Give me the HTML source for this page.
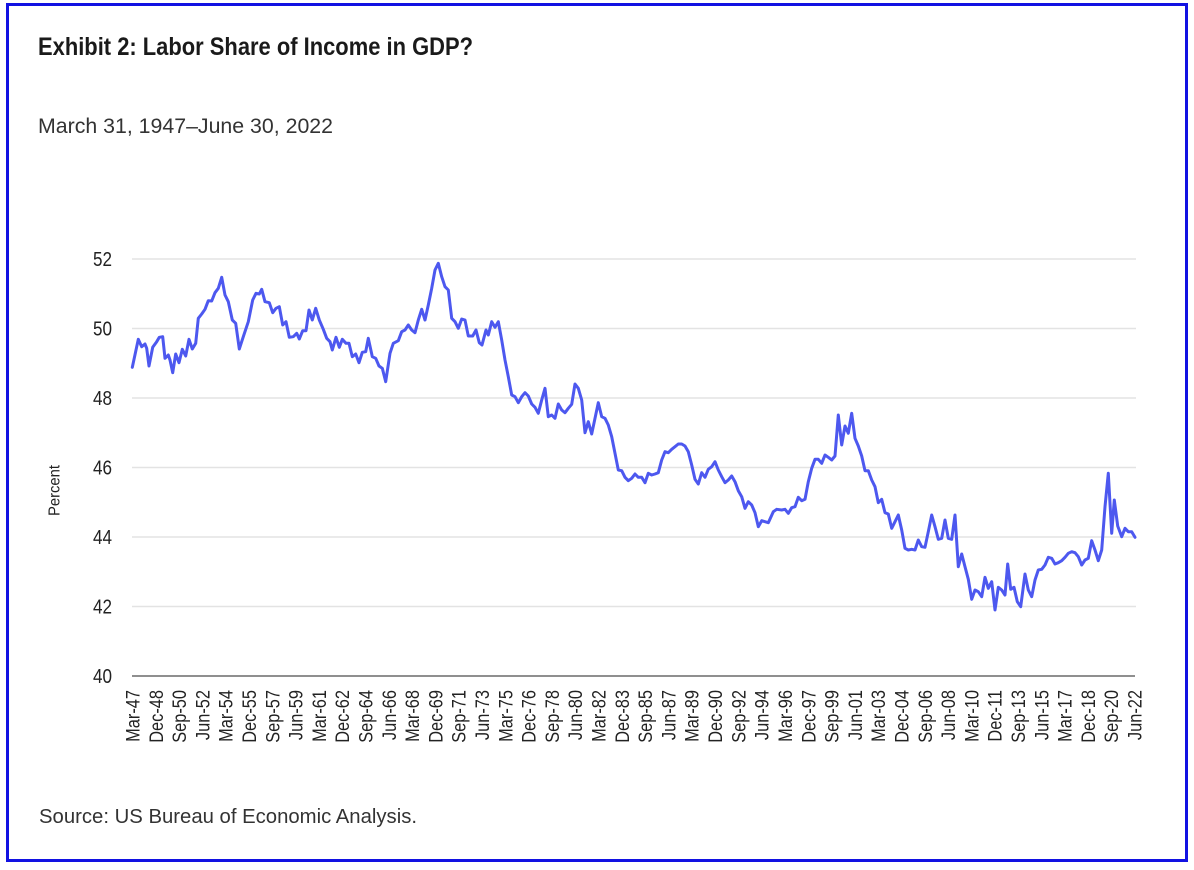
<!DOCTYPE html>
<html><head><meta charset="utf-8"><style>
html,body{margin:0;padding:0;background:#fff;}
svg{display:block;}
text{font-family:"Liberation Sans",Arial,sans-serif;}
</style></head><body>
<svg width="1194" height="870" viewBox="0 0 1194 870" xmlns="http://www.w3.org/2000/svg">
<rect x="0" y="0" width="1194" height="870" fill="#fff"/>
<rect x="7.5" y="4.5" width="1179" height="856" fill="#fff" stroke="#1212e2" stroke-width="3"/>

<text x="38" y="55" font-size="25" font-weight="bold" fill="#1a1a1a" textLength="435" lengthAdjust="spacingAndGlyphs">Exhibit 2: Labor Share of Income in GDP?</text>
<text x="38" y="133" font-size="21" fill="#333" textLength="295" lengthAdjust="spacingAndGlyphs">March 31, 1947–June 30, 2022</text>
<text x="39" y="823" font-size="20" fill="#333" textLength="378" lengthAdjust="spacingAndGlyphs">Source: US Bureau of Economic Analysis.</text>

<!-- gridlines -->
<g stroke="#e3e3e3" stroke-width="1.5">
<line x1="132" y1="259" x2="1136" y2="259"/>
<line x1="132" y1="328.5" x2="1136" y2="328.5"/>
<line x1="132" y1="398" x2="1136" y2="398"/>
<line x1="132" y1="467.5" x2="1136" y2="467.5"/>
<line x1="132" y1="537" x2="1136" y2="537"/>
<line x1="132" y1="606.5" x2="1136" y2="606.5"/>
</g>
<line x1="132" y1="676" x2="1135" y2="676" stroke="#6a6a6a" stroke-width="1.5"/>

<!-- y tick labels -->
<g font-size="20" fill="#222" text-anchor="end">
<text x="112" y="266" textLength="19" lengthAdjust="spacingAndGlyphs">52</text>
<text x="112" y="335.5" textLength="19" lengthAdjust="spacingAndGlyphs">50</text>
<text x="112" y="405" textLength="19" lengthAdjust="spacingAndGlyphs">48</text>
<text x="112" y="474.5" textLength="19" lengthAdjust="spacingAndGlyphs">46</text>
<text x="112" y="544" textLength="19" lengthAdjust="spacingAndGlyphs">44</text>
<text x="112" y="613.5" textLength="19" lengthAdjust="spacingAndGlyphs">42</text>
<text x="112" y="683" textLength="19" lengthAdjust="spacingAndGlyphs">40</text>
</g>
<text transform="translate(59.5,490.5) rotate(-90)" font-size="16" fill="#222" text-anchor="middle" textLength="51" lengthAdjust="spacingAndGlyphs">Percent</text>

<!-- x tick labels -->
<g font-size="19.5" fill="#222" text-anchor="end">
<text transform="translate(139.5,690) rotate(-90) scale(0.84,1)">Mar-47</text>
<text transform="translate(162.8,690) rotate(-90) scale(0.84,1)">Dec-48</text>
<text transform="translate(186.1,690) rotate(-90) scale(0.84,1)">Sep-50</text>
<text transform="translate(209.4,690) rotate(-90) scale(0.84,1)">Jun-52</text>
<text transform="translate(232.7,690) rotate(-90) scale(0.84,1)">Mar-54</text>
<text transform="translate(256.0,690) rotate(-90) scale(0.84,1)">Dec-55</text>
<text transform="translate(279.3,690) rotate(-90) scale(0.84,1)">Sep-57</text>
<text transform="translate(302.6,690) rotate(-90) scale(0.84,1)">Jun-59</text>
<text transform="translate(325.9,690) rotate(-90) scale(0.84,1)">Mar-61</text>
<text transform="translate(349.2,690) rotate(-90) scale(0.84,1)">Dec-62</text>
<text transform="translate(372.5,690) rotate(-90) scale(0.84,1)">Sep-64</text>
<text transform="translate(395.8,690) rotate(-90) scale(0.84,1)">Jun-66</text>
<text transform="translate(419.1,690) rotate(-90) scale(0.84,1)">Mar-68</text>
<text transform="translate(442.4,690) rotate(-90) scale(0.84,1)">Dec-69</text>
<text transform="translate(465.7,690) rotate(-90) scale(0.84,1)">Sep-71</text>
<text transform="translate(489.0,690) rotate(-90) scale(0.84,1)">Jun-73</text>
<text transform="translate(512.3,690) rotate(-90) scale(0.84,1)">Mar-75</text>
<text transform="translate(535.6,690) rotate(-90) scale(0.84,1)">Dec-76</text>
<text transform="translate(558.9,690) rotate(-90) scale(0.84,1)">Sep-78</text>
<text transform="translate(582.2,690) rotate(-90) scale(0.84,1)">Jun-80</text>
<text transform="translate(605.5,690) rotate(-90) scale(0.84,1)">Mar-82</text>
<text transform="translate(628.8,690) rotate(-90) scale(0.84,1)">Dec-83</text>
<text transform="translate(652.1,690) rotate(-90) scale(0.84,1)">Sep-85</text>
<text transform="translate(675.4,690) rotate(-90) scale(0.84,1)">Jun-87</text>
<text transform="translate(698.7,690) rotate(-90) scale(0.84,1)">Mar-89</text>
<text transform="translate(722.1,690) rotate(-90) scale(0.84,1)">Dec-90</text>
<text transform="translate(745.4,690) rotate(-90) scale(0.84,1)">Sep-92</text>
<text transform="translate(768.7,690) rotate(-90) scale(0.84,1)">Jun-94</text>
<text transform="translate(792.0,690) rotate(-90) scale(0.84,1)">Mar-96</text>
<text transform="translate(815.3,690) rotate(-90) scale(0.84,1)">Dec-97</text>
<text transform="translate(838.6,690) rotate(-90) scale(0.84,1)">Sep-99</text>
<text transform="translate(861.9,690) rotate(-90) scale(0.84,1)">Jun-01</text>
<text transform="translate(885.2,690) rotate(-90) scale(0.84,1)">Mar-03</text>
<text transform="translate(908.5,690) rotate(-90) scale(0.84,1)">Dec-04</text>
<text transform="translate(931.8,690) rotate(-90) scale(0.84,1)">Sep-06</text>
<text transform="translate(955.1,690) rotate(-90) scale(0.84,1)">Jun-08</text>
<text transform="translate(978.4,690) rotate(-90) scale(0.84,1)">Mar-10</text>
<text transform="translate(1001.7,690) rotate(-90) scale(0.84,1)">Dec-11</text>
<text transform="translate(1025.0,690) rotate(-90) scale(0.84,1)">Sep-13</text>
<text transform="translate(1048.3,690) rotate(-90) scale(0.84,1)">Jun-15</text>
<text transform="translate(1071.6,690) rotate(-90) scale(0.84,1)">Mar-17</text>
<text transform="translate(1094.9,690) rotate(-90) scale(0.84,1)">Dec-18</text>
<text transform="translate(1118.2,690) rotate(-90) scale(0.84,1)">Sep-20</text>
<text transform="translate(1141.5,690) rotate(-90) scale(0.84,1)">Jun-22</text>
</g>

<!-- data line -->
<polyline fill="none" stroke="#4d58ef" stroke-width="3" stroke-linejoin="round" stroke-linecap="round" points="132.3,367.3 138.3,339.3 141.7,346.7 145,344 146.7,348.3 149,366 152.7,347.3 156.7,341.7 159.3,337.3 162.7,336.7 165,358.3 168.3,355 170,360 172.7,372.7 175.7,354 179,362.7 182.3,349.3 185.7,356 189,339.3 192.3,349 195.7,343.3 198.3,318.3 201.7,314 205,309.3 208.3,300.7 211.7,301 215,292.7 218.3,288.3 221.7,277.3 225,295 228.3,301.7 232.3,320 235.7,323.3 239.3,349 243.3,336.7 248.3,321.7 252.7,300 256,293.3 259.3,294 261.7,289.3 265,301.7 269.3,302.7 272.7,312.7 276,308.3 279.3,306.7 282.7,325 286,321.7 289.3,337.3 293.3,336.7 296.7,333.3 299.3,339 302.7,330.7 306,330.7 309,310 312.3,320 315.7,308.3 319.3,320 323.3,329.3 326.7,338.3 330,341.7 332.3,350 336,337.3 339.3,347.3 342.3,339.3 346,343.3 349,343.3 352.3,356.7 355.7,354 359,362.7 362.3,352.3 365.7,351.7 368.3,338.3 372.3,356.7 375.7,358.3 379,366 382.3,368.3 385.7,381.7 390,353.3 393.3,343.3 398.3,340.7 401.7,331.7 405,330 408.3,325 411.7,330 415,332.7 418.3,320 421.7,309.3 425,320 428.3,305 431.7,288.3 435,270 438.3,263.3 441.7,276.7 445,286.7 448.3,290 451.7,318.3 455,321.7 458.3,328.3 461.7,319 465,320 468.3,336 472.7,336 476,330 479.3,342.7 482,345 486,330 488.3,335 491.7,321.7 495,327.3 498.3,321.7 501.7,340 505,360 508.3,376.7 511.7,395 515,396.7 518.3,402.7 521.7,396.7 525,392.7 528.3,396 531.7,404 535,407.3 538.3,413.3 541.7,400 545,388.3 548.3,416.7 551.7,415 555,418.3 558.3,404 561.7,410 565,412.7 568.3,408.3 571.7,404.3 575,384 578.3,388.3 581.7,400 585,432.7 588.3,421.7 591.7,434 595,418.3 598.3,402.7 601.7,416.7 605,418.3 608.3,425 611.7,436.7 615,453.3 618.3,470 621.7,470.7 625,477.3 628.3,480.7 631.7,478.3 635,474 638.3,477.3 641.7,477.3 645,482.7 648.3,473.3 651.7,475 655,474 658.3,472.7 661.7,460 665,451.7 668.3,452.7 671.7,449.3 675,446.7 678.3,444 681.7,444 685,446 688.3,451.7 691.7,465 695,479.3 698.3,484 701.7,472.7 705,477.3 708.3,469.3 711.7,466.7 715,461.7 718.3,470 721.7,476.7 725,482.7 728.3,480 731.7,476 735,481.7 738.3,490.7 741.7,496.7 745,508.3 748.3,501.7 751.7,505 755,512.7 758.3,526.7 761.7,520.7 765,521.7 768.3,522.7 773.3,511.7 776.7,509.3 781.7,510 785,509.3 788.3,513.3 791.7,507.7 795,506.7 798.3,497.3 801.7,500.7 805,499.3 808.3,481.7 811.7,468.3 815,459.3 818.3,459.3 821.7,463.3 825,455 828.3,457.3 831.7,460 835,456 838.3,415 841.7,445 845,426 848.3,433.3 851.7,413.3 855,438.3 858.3,446 861.7,456 865,470.7 868.3,470.7 871.7,480 875,486.7 878.3,502.7 881.7,499.3 885,512.7 888.3,514 891.7,528.3 895,521.7 898.3,515 901.7,530 905,548.3 908.3,550 911.7,549.3 915,550 918.3,540 921.7,546.7 925,547.3 928.3,531.7 931.7,515 935,526.7 938.3,539.3 941.7,538.3 945,520 948.3,538.3 951.7,539.3 955,515 958.3,566.7 961.7,554 965,566.7 968.3,579.3 971.7,599.3 975,590 978.3,591.7 981.7,596.7 985,577.3 988.3,588.3 991.7,581.7 995,610 998.3,587.3 1001.7,590 1005,595 1007.7,564 1010.7,589.3 1014,587.3 1017.3,601.7 1020.7,606.7 1025,574 1028.3,590 1031.7,596.7 1035,580 1038.3,570 1041.7,569.3 1045,565 1048.3,557.3 1051.7,558.3 1055,564 1058.3,562.7 1061.7,560.7 1065,557.3 1068.3,553.3 1071.7,551.7 1075,552.7 1078.3,556.7 1081.7,565 1085,560 1088.3,558.3 1091.7,540.7 1095,550 1098.3,560.7 1101.7,550 1105,506.7 1108.3,473.3 1111.7,533.3 1114.3,500 1117.7,526 1121.7,536.7 1125,528.3 1128.3,531.7 1131.7,531.7 1135,537.3"/>
</svg>
</body></html>
